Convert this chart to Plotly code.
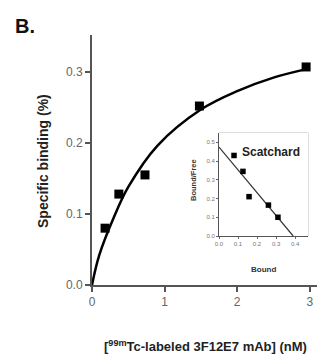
import plotly.graph_objects as go

# Main saturation binding data
conc = [0.18, 0.37, 0.73, 1.48, 2.95]
binding = [0.080, 0.128, 0.155, 0.252, 0.307]
# Fitted curve
fit_x = [0, 0.1, 0.3, 0.5, 0.9, 1.5, 2.0, 2.5, 3.0]
fit_y = [0, 0.042, 0.095, 0.138, 0.196, 0.247, 0.273, 0.292, 0.305]
x_ticks = [0, 1, 2, 3]
y_ticks = [0.0, 0.1, 0.2, 0.3]

# Scatchard inset
bound = [0.079, 0.126, 0.158, 0.26, 0.31]
bound_free = [0.43, 0.345, 0.21, 0.165, 0.10]
sc_line_x = [0, 0.39]
sc_line_y = [0.475, 0]
sc_x_ticks = [0.0, 0.1, 0.2, 0.3, 0.4]
sc_y_ticks = [0.0, 0.1, 0.2, 0.3, 0.4, 0.5]

W, H = 317, 358
L, R, T, B = 92, 0, 35, 73
PW, PH = W - L - R, H - T - B


def px(x):
    return (x - L) / PW


def py(y):
    return (H - B - y) / PH


FONT = "Liberation Sans, Arial, sans-serif"

fig = go.Figure()
fig.add_trace(go.Scatter(x=fit_x, y=fit_y, mode="lines", line=dict(color="black", width=2.5, shape="spline"),
                         xaxis="x", yaxis="y", hoverinfo="skip", cliponaxis=False))
fig.add_trace(go.Scatter(x=conc, y=binding, mode="markers", marker=dict(symbol="square", size=9, color="black"),
                         xaxis="x", yaxis="y", cliponaxis=False))
fig.add_trace(go.Scatter(x=sc_line_x, y=sc_line_y, mode="lines", line=dict(color="#333", width=1.2),
                         xaxis="x2", yaxis="y2", cliponaxis=False))
fig.add_trace(go.Scatter(x=bound, y=bound_free, mode="markers", marker=dict(symbol="square", size=5.5, color="black"),
                         xaxis="x2", yaxis="y2", cliponaxis=False))

ix0, ix1 = px(219), px(308)
iy0, iy1 = py(236), py(133)


def ann(text, x, y, size, color="#222", angle=0):
    return dict(text=text, x=px(x), y=py(y), xref="paper", yref="paper", showarrow=False,
                xanchor="center", yanchor="middle", textangle=angle,
                font=dict(size=size, color=color, family=FONT))


fig.update_layout(
    width=W, height=H, margin=dict(l=L, r=R, t=T, b=B),
    paper_bgcolor="white", plot_bgcolor="white", showlegend=False,
    font=dict(family=FONT, color="#555"),
    xaxis=dict(domain=[0, 1], range=[0, 3.1], tickvals=x_ticks, ticks="outside", ticklen=5, tickwidth=1.5,
               tickcolor="#555", showline=True, linecolor="#555", linewidth=2, showgrid=False, zeroline=False,
               tickfont=dict(size=12, color="#666")),
    yaxis=dict(domain=[0, 1], range=[0, 0.352], tickvals=y_ticks, tickformat=".1f", ticks="outside", ticklen=5,
               tickwidth=1.5, tickcolor="#555", showline=True, linecolor="#555", linewidth=2, showgrid=False,
               zeroline=False, tickfont=dict(size=12, color="#666")),
    xaxis2=dict(domain=[ix0, ix1], anchor="y2", range=[0, 0.468], tickvals=sc_x_ticks, tickformat=".1f",
                ticks="outside", ticklen=2, tickwidth=0.8, tickcolor="#666", showline=True, linecolor="#555",
                linewidth=1, showgrid=False, zeroline=False, tickfont=dict(size=6, color="#777")),
    yaxis2=dict(domain=[iy0, iy1], anchor="x2", range=[0, 0.55], tickvals=sc_y_ticks, tickformat=".1f",
                ticks="outside", ticklen=2, tickwidth=0.8, tickcolor="#666", showline=True, linecolor="#555",
                linewidth=1, showgrid=False, zeroline=False, tickfont=dict(size=6, color="#777")),
    shapes=[dict(type="rect", xref="paper", yref="paper", x0=ix0, x1=ix1, y0=iy0, y1=iy1,
                 line=dict(color="#bbb", width=1), layer="below", fillcolor="white")],
    annotations=[
        ann("<b>B.</b>", 25, 26, 20, "#111"),
        ann("<b>Specific binding (%)</b>", 43, 161, 14, angle=-90),
        ann("<b>[<sup>99m</sup>Tc-labeled 3F12E7 mAb] (nM)</b>", 205, 346, 13),
        ann("<b>Scatchard</b>", 271, 152, 12),
        ann("<b>Bound/Free</b>", 193, 180, 7.5, "#333", angle=-90),
        ann("<b>Bound</b>", 263, 269, 8, "#333"),
    ],
)

fig.write_html("out.html", config={"displayModeBar": False},
               post_script="document.body.style.margin='0';document.body.style.overflow='hidden';")
